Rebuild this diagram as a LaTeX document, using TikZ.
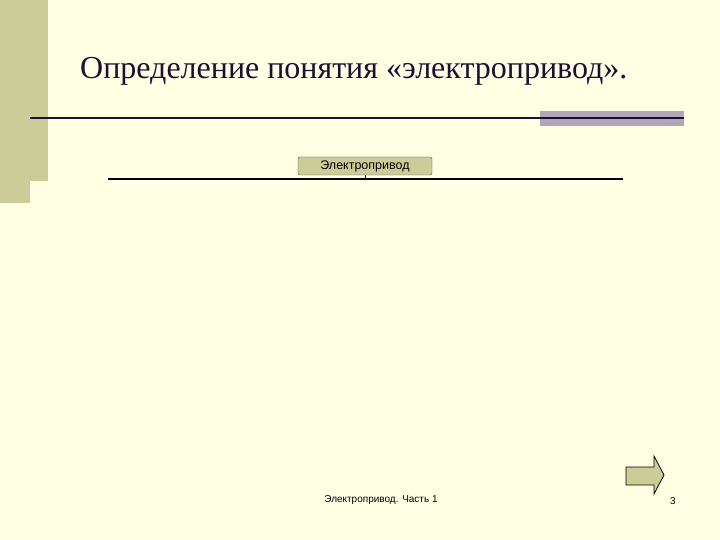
\documentclass[tikz,border=0pt]{standalone}
\usepackage{fontspec}
\setmainfont{Liberation Serif}
\newfontfamily\arialf{Liberation Sans}
\definecolor{bgc}{RGB}{255,255,228}
\definecolor{olive}{RGB}{204,204,153}
\definecolor{barg}{RGB}{176,168,186}
\definecolor{titc}{RGB}{30,14,50}
\tikzset{
  x=1pt,y=-1pt,
  boxnode/.style={draw=black!70,fill=olive,rounded corners=2pt,minimum width=134pt,minimum height=18pt,inner sep=0pt,font=\arialf\fontsize{12.5}{14}\selectfont},
  rule/.style={line width=2pt,draw=black}
}
\begin{document}
\begin{tikzpicture}
\useasboundingbox (0,0) rectangle (720,540);
\fill[bgc] (0,0) rectangle (720,540);
% left bar
\fill[olive] (0,0) rectangle (48,181);
\fill[olive] (0,181) rectangle (30,203);
% title
\node[anchor=base west,inner sep=0pt,text=titc,font=\fontsize{32}{38}\selectfont] (title) at (80,79) {Определение понятия «электропривод».};
% title rule
\fill[barg] (540,111) rectangle (684,126);
\coordinate (r1) at (30,118);
\coordinate (r2) at (684,118);
\draw[line width=1.6pt,draw=titc] (r1) -- (r2);
% org line
\node[boxnode] (ep) at (365,166) {Электропривод};
\coordinate (la) at (108,179);
\coordinate (lb) at (623,179);
\draw[rule] (la) -- (lb);
\draw[line width=1pt] (ep.south) -- (ep.south |- la);
% arrow
\draw[fill=olive,line width=0.8pt] (626,467) -- (654,467) -- (654,456) -- (664,475) -- (654,494) -- (654,485) -- (626,485) -- cycle;
% footer
\node[font=\arialf\fontsize{10}{12}\selectfont,inner sep=0pt] (foot) at (381,500) {Электропривод. Часть 1};
\node[font=\arialf\fontsize{10}{12}\selectfont,inner sep=0pt] (num) at (673,501) {3};
\end{tikzpicture}
\end{document}
